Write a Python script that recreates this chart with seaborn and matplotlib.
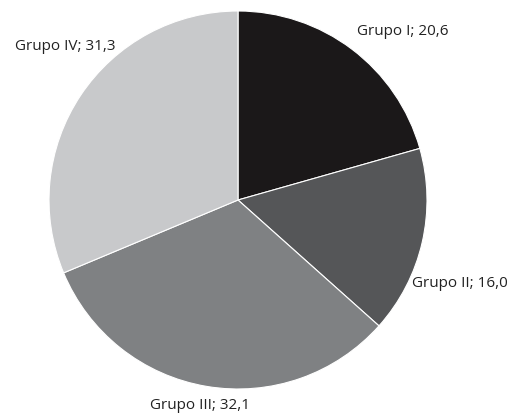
import matplotlib
matplotlib.use("Agg")
import matplotlib.pyplot as plt
import seaborn as sns

grupos = ["Grupo I", "Grupo II", "Grupo III", "Grupo IV"]
valores = [20.6, 16.0, 32.1, 31.3]
cores = ["#1b1819", "#555658", "#7f8183", "#c8c9cb"]

sns.set_theme(style="white")
plt.rcParams['font.family'] = ['Open Sans', 'DejaVu Sans']

fig = plt.figure(figsize=(5.16, 4.17), dpi=100)
ax = fig.add_axes([49 / 516, 28 / 417, 378 / 516, 378 / 417])

ax.pie(valores, colors=cores, startangle=90, counterclock=False,
       wedgeprops=dict(edgecolor="white", linewidth=0.8))
ax.set_xlim(-1, 1)
ax.set_ylim(-1, 1)

rotulos = [f"{g}; {v:.1f}".replace(".", ",") for g, v in zip(grupos, valores)]
# posicao dos rotulos (em unidades do raio)
pos = [(0.63, 0.89, "left"), (0.92, -0.44, "left"), (-0.20, -1.085, "center"), (-0.65, 0.81, "right")]
for txt, (x, y, ha) in zip(rotulos, pos):
    ax.text(x, y, txt, ha=ha, va="center", fontsize=11, color="#222222", clip_on=False)

fig.savefig("out.png", dpi=100)
